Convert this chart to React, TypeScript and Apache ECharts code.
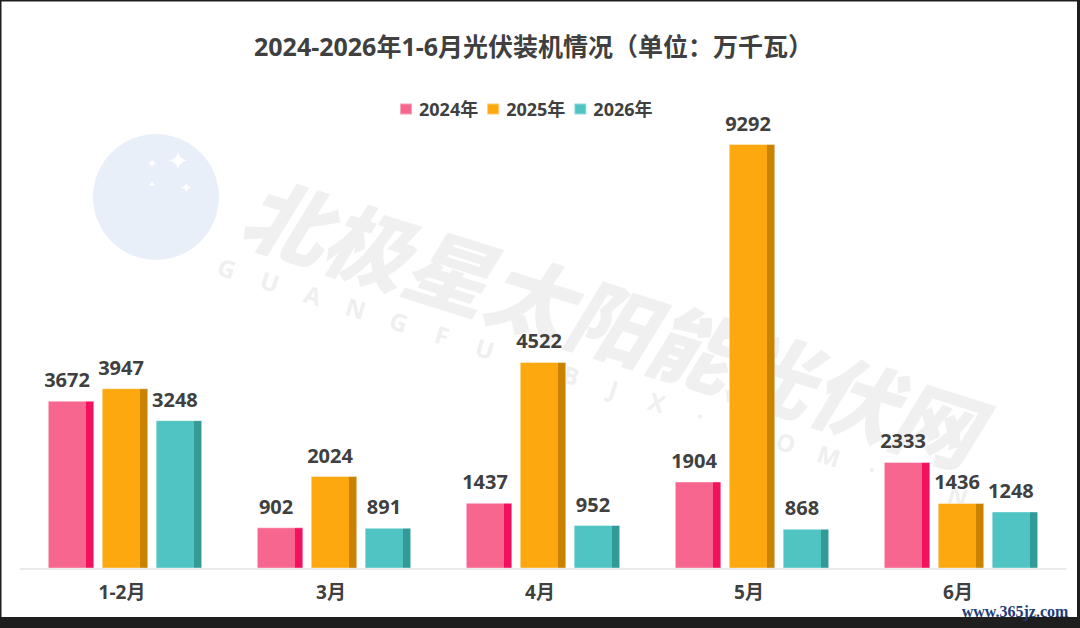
import React, { useEffect, useRef } from "react";
import * as echarts from "echarts";

const categories = ["1-2月", "3月", "4月", "5月", "6月"];
const seriesNames = ["2024年", "2025年", "2026年"];
const values2024 = [3672, 902, 1437, 1904, 2333];
const values2025 = [3947, 2024, 4522, 9292, 1436];
const values2026 = [3248, 891, 952, 868, 1248];
const titleText = "2024-2026年1-6月光伏装机情况（单位：万千瓦）";

const FRONT = ["#F7668F", "#FCA80E", "#4FC4C2"];
const SIDE = ["#F3115E", "#C98300", "#339B97"];
const FONT = "'Open Sans', 'Noto Sans CJK SC', sans-serif";
const TEXT = "#404040";

function sideGradient(i: number) {
  return new echarts.graphic.LinearGradient(0, 0, 1, 0, [
    { offset: 0, color: FRONT[i] },
    { offset: 0.835, color: FRONT[i] },
    { offset: 0.835, color: SIDE[i] },
    { offset: 1, color: SIDE[i] },
  ]);
}

export default function App() {
  const ref = useRef<HTMLDivElement>(null);
  useEffect(() => {
    if (!ref.current) return;
    const chart = echarts.init(ref.current, undefined, { renderer: "svg" });
    const data = [values2024, values2025, values2026];
    const angle = (-17.4 * Math.PI) / 180;
    const letters = "GUANGFU·BJX·COM·CN".split("");
    const letterEls = letters.map((ch, i) => ({
      type: "text",
      x: 227 + 43 * i,
      y: 268 + 13.4 * i,
      rotation: angle,
      z: -5,
      style: {
        text: ch,
        fontSize: 24,
        fontWeight: "bold",
        fontFamily: FONT,
        fill: "#efefef",
        align: "center",
        verticalAlign: "middle",
      },
    }));
    const stars = [
      [178, 161, 26],
      [152, 163, 13],
      [152, 184, 10],
      [186, 188, 15],
    ].map(([x, y, s]) => ({
      type: "text",
      x,
      y,
      z: -5,
      style: {
        text: "✦",
        fontSize: s,
        fontFamily: "'DejaVu Sans', sans-serif",
        fill: "#ffffff",
        align: "center",
        verticalAlign: "middle",
      },
    }));
    chart.setOption({
      animation: false,
      backgroundColor: "#1e1e1e",
      title: {
        text: titleText,
        left: 249,
        top: 28,
        textStyle: {
          fontSize: 25,
          fontWeight: "bold",
          color: TEXT,
          fontFamily: FONT,
        },
      },
      legend: {
        left: 394,
        top: 95,
        itemWidth: 12,
        itemHeight: 11,
        itemGap: 8,
        icon: "rect",
        textStyle: {
          fontSize: 18,
          fontWeight: "bold",
          color: TEXT,
          fontFamily: FONT,
          padding: [0, 0, 0, 2],
        },
        data: seriesNames.map((n, i) => ({ name: n, itemStyle: { color: FRONT[i] } })),
      },
      graphic: [
        {
          type: "rect",
          z: -10,
          shape: { x: 1.5, y: 1.5, width: 1075.5, height: 615.5 },
          style: { fill: "#ffffff" },
        },
        {
          type: "circle",
          z: -6,
          shape: { cx: 156, cy: 197, r: 63 },
          style: { fill: "#E9EFF8" },
        },
        ...stars,
        {
          type: "text",
          x: 612,
          y: 318,
          rotation: angle,
          z: -5,
          style: {
            text: "北极星太阳能光伏网",
            fontSize: 85,
            fontWeight: 900,
            fontStyle: "italic",
            fontFamily: "'Noto Sans CJK SC', sans-serif",
            fill: "#f0f0f0",
            align: "center",
            verticalAlign: "middle",
          },
        },
        ...letterEls,
        {
          type: "text",
          x: 1015,
          y: 611,
          z: 10,
          style: {
            text: "www.365jz.com",
            fontSize: 16,
            fontWeight: "bold",
            fontFamily: "'Liberation Serif', serif",
            fill: "#1d3c78",
            align: "center",
            verticalAlign: "middle",
          },
        },
      ],
      grid: { left: 20.5, right: 14.5, top: 111.7, bottom: 59.5 },
      xAxis: {
        type: "category",
        data: categories,
        axisLine: { show: true, lineStyle: { color: "#e9e9e9", width: 2 } },
        axisTick: { show: false },
        axisLabel: {
          margin: 14,
          fontSize: 19,
          fontWeight: "bold",
          color: TEXT,
          fontFamily: FONT,
          padding: [0, 6, 0, 0],
        },
      },
      yAxis: {
        type: "value",
        min: 0,
        max: 10000,
        show: false,
        splitLine: { show: false },
      },
      series: seriesNames.map((n, i) => ({
        name: n,
        type: "bar",
        data: data[i],
        barWidth: 46.5,
        barGap: "16%",
        itemStyle: {
          color: sideGradient(i),
          borderColor: "rgba(255,255,255,0.4)",
          borderWidth: 1,
        },
        label: {
          show: true,
          position: "top",
          distance: 11,
          offset: [-4, 0],
          fontSize: 20,
          fontWeight: "bold",
          color: TEXT,
          fontFamily: FONT,
        },
      })),
    });
    return () => chart.dispose();
  }, []);
  return (
    <div style={{ position: "fixed", left: 0, top: 0, width: 1080, height: 628 }}>
      <div ref={ref} style={{ width: 1080, height: 628 }} />
    </div>
  );
}
